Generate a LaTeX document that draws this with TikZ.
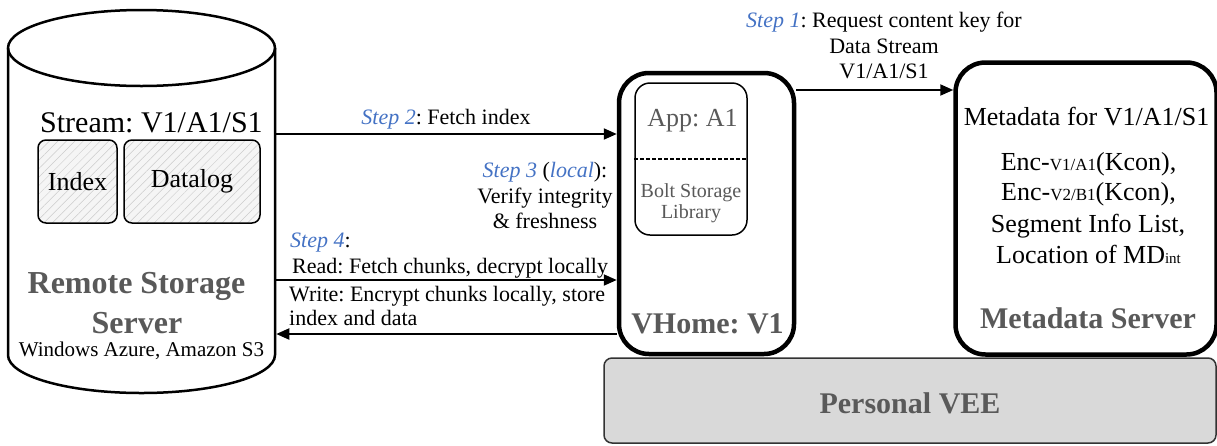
\documentclass[tikz,border=0pt]{standalone}
\usepackage{fontspec}
\setmainfont{Liberation Serif}
\usetikzlibrary{arrows.meta,patterns.meta}
\definecolor{txtgray}{RGB}{89,89,89}
\definecolor{stepblue}{RGB}{68,114,196}
\definecolor{veefill}{RGB}{217,217,217}
\newcommand{\fsz}[1]{\fontsize{#1}{#1}\selectfont}
\newcommand{\stp}[1]{\textcolor{stepblue}{\itshape #1}}
\frenchspacing
\begin{document}
\begin{tikzpicture}[x=1pt,y=-1pt,
  lbl/.style={inner sep=0pt, anchor=base},
  steptxt/.style={lbl, font=\fsz{22}},
  graylbl/.style={lbl, text=txtgray},
  bigbox/.style={draw, line width=4.5pt, rounded corners=30pt, inner sep=0pt, fill=white},
  hatchbox/.style={draw, line width=1.5pt, rounded corners=8pt, inner sep=0pt,
    preaction={fill=gray!8},
    pattern={Lines[angle=45,distance=6pt,line width=0.5pt]}, pattern color=gray!40},
  flow/.style={line width=2pt, -{Triangle[length=13pt,width=11pt]}},
  cyl/.style={line width=2.5pt}
]
\useasboundingbox (0,0) rectangle (1217,445);

% Remote storage cylinder
\draw[cyl] (141.5,48) ellipse [x radius=133.5, y radius=38];
\draw[cyl] (8,48) -- (8,355) .. controls (8,376) and (67.8,393) .. (141.5,393)
  .. controls (215.2,393) and (275,376) .. (275,355) -- (275,48);
\node[inner sep=0pt, outer sep=0pt, minimum width=269.5pt, minimum height=383pt] (rss) at (141.5,201.5) {};

\node[lbl, anchor=base west, font=\fsz{30}] (stream) at (40,132) {Stream: V1/A1/S1};
\node[hatchbox, minimum width=79pt, minimum height=83pt, font=\fsz{26}] (index) at (77.5,181.5) {Index};
\node[hatchbox, minimum width=136pt, minimum height=83pt, font=\fsz{26}] (datalog) at (192,181.5) {Datalog};
\node[graylbl, font=\bfseries\fsz{32}] (rssname1) at (136.5,293) {Remote Storage};
\node[graylbl, font=\bfseries\fsz{32}] (rssname2) at (137,333) {Server};
\node[lbl, font=\fsz{21}] (rssname3) at (141.5,356) {Windows Azure, Amazon S3};

% Personal VEE
\node[draw=black!80, line width=1.5pt, fill=veefill, rounded corners=8pt, inner sep=0pt,
  minimum width=612pt, minimum height=85pt] (vee) at (910,400.5) {};
\node[graylbl, font=\bfseries\fsz{30}] (veename) at (910,413) {Personal VEE};

% VHome
\node[bigbox, minimum width=175pt, minimum height=281pt] (vhome) at (706.5,213.5) {};
\node[draw, line width=1.5pt, rounded corners=15pt, inner sep=0pt,
  minimum width=112pt, minimum height=152pt] (app) at (691,159) {};
\draw[line width=2pt, dash pattern=on 4pt off 2pt] (app.west) -- (app.east);
\node[graylbl, font=\fsz{26}] (appname) at (692.5,126) {App: A1};
\node[graylbl, font=\fsz{20}] (bolt1) at (691,197) {Bolt Storage};
\node[graylbl, font=\fsz{20}] (bolt2) at (691,218) {Library};
\node[graylbl, font=\bfseries\fsz{30}] (vhname) at (707.5,333) {VHome: V1};

% Metadata server
\node[bigbox, minimum width=261pt, minimum height=292pt] (meta) at (1086,208.5) {};
\node[lbl, font=\fsz{26}] (md1) at (1086.5,125) {Metadata for V1/A1/S1};
\node[lbl, font=\fsz{26}] (md2) at (1088.5,170) {Enc-{\fsz{17}V1/A1}(Kcon),};
\node[lbl, font=\fsz{26}] (md3) at (1088.5,200) {Enc-{\fsz{17}V2/B1}(Kcon),};
\node[lbl, font=\fsz{26}] (md4) at (1088,232) {Segment Info List,};
\node[lbl, font=\fsz{26}] (md5) at (1088.5,263) {Location of MD{\fsz{15}int}};
\node[graylbl, font=\bfseries\fsz{30}] (mdname) at (1088,328) {Metadata Server};

% Connectors
\draw[flow] (vhome.east |- 0,90) -- (meta.west |- 0,90);
\draw[flow] (rss.east |- 0,134) -- (vhome.west |- 0,134);
\draw[flow] (rss.east |- 0,280) -- (vhome.west |- 0,280);
\draw[flow] (vhome.west |- 0,334) -- (rss.east |- 0,334);

% Step labels
\node[steptxt] (s1a) at (884,27) {\stp{Step 1}: Request content key for};
\node[steptxt] (s1b) at (884,53) {Data Stream};
\node[steptxt] (s1c) at (884,78) {V1/A1/S1};
\node[steptxt] (s2) at (446,124) {\stp{Step 2}: Fetch index};
\node[steptxt] (s3a) at (545,177) {\stp{Step 3} (\stp{local}):};
\node[steptxt] (s3b) at (545,203) {Verify integrity};
\node[steptxt] (s3c) at (545,228) {\& freshness};
\node[steptxt, anchor=base west] (s4a) at (290,247) {\stp{Step 4}:};
\node[steptxt, anchor=base west] (s4b) at (292,273) {Read: Fetch chunks, decrypt locally};
\node[steptxt, anchor=base west] (s4c) at (289,301) {Write: Encrypt chunks locally, store};
\node[steptxt, anchor=base west] (s4d) at (289,325) {index and data};
\end{tikzpicture}
\end{document}
